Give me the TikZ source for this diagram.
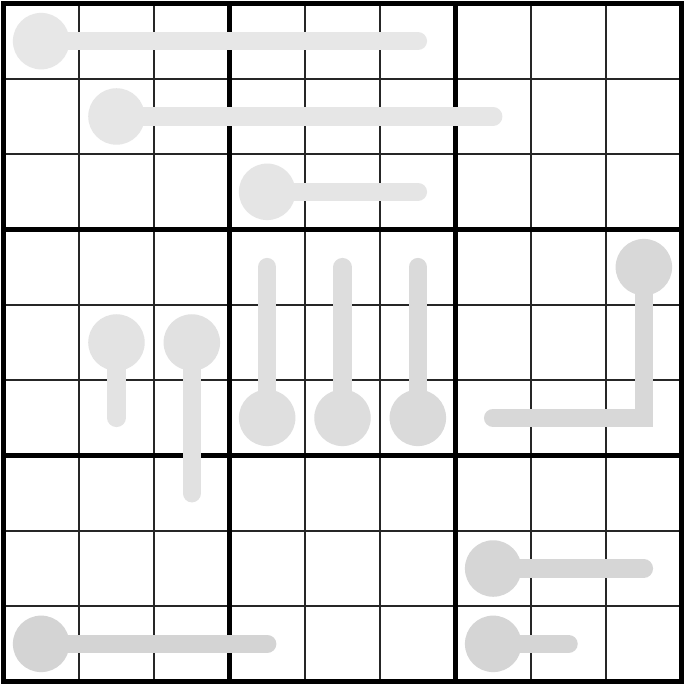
\documentclass[tikz,border=0pt]{standalone}
\begin{document}
\begin{tikzpicture}[x=1cm,y=1cm,
  thinline/.style={line width=0.7pt,black!85},
  boxline/.style={line width=2pt,black},
  bulb/.style={circle,inner sep=0pt,minimum size=0.75cm,fill=#1,draw=none},
  bar/.style={line width=0.245cm,draw=#1,line cap=round,line join=miter}]
\useasboundingbox (-0.046,-0.046) rectangle (9.046,9.046);
\fill[white] (-0.046,-0.046) rectangle (9.046,9.046);
% grid
\draw[thinline] (0,0) grid (9,9);
\draw[boxline] (0,0) grid[step=3] (9,9);
\draw[boxline] (0,0) rectangle (9,9);
% colours
\definecolor{t1}{HTML}{E7E7E7}
\definecolor{t2}{HTML}{E6E6E6}
\definecolor{t3}{HTML}{E5E5E5}
\definecolor{t4}{HTML}{E3E3E3}
\definecolor{t5}{HTML}{E1E1E1}
\definecolor{t6}{HTML}{DFDFDF}
\definecolor{t7}{HTML}{DDDDDD}
\definecolor{t8}{HTML}{DADADA}
\definecolor{t9}{HTML}{D8D8D8}
\definecolor{t10}{HTML}{D6D6D6}
\definecolor{t11}{HTML}{D5D5D5}
\definecolor{t12}{HTML}{D4D4D4}
% end coordinates (x = col+0.5, y = 8.5-row)
\coordinate (e1) at (5.5,8.5);
\coordinate (e2) at (6.5,7.5);
\coordinate (e3) at (5.5,6.5);
\coordinate (e4) at (1.5,3.5);
\coordinate (e5) at (2.5,2.5);
\coordinate (e6) at (3.5,5.5);
\coordinate (e7) at (4.5,5.5);
\coordinate (e8) at (5.5,5.5);
\coordinate (c9) at (8.5,3.5);
\coordinate (e9) at (6.5,3.5);
\coordinate (e10) at (8.5,1.5);
\coordinate (e11) at (7.5,0.5);
\coordinate (e12) at (3.5,0.5);
% bulbs
\node[bulb=t1] (b1) at (0.5,8.5) {};
\node[bulb=t2] (b2) at (1.5,7.5) {};
\node[bulb=t3] (b3) at (3.5,6.5) {};
\node[bulb=t4] (b4) at (1.5,4.5) {};
\node[bulb=t5] (b5) at (2.5,4.5) {};
\node[bulb=t6] (b6) at (3.5,3.5) {};
\node[bulb=t7] (b7) at (4.5,3.5) {};
\node[bulb=t8] (b8) at (5.5,3.5) {};
\node[bulb=t9] (b9) at (8.5,5.5) {};
\node[bulb=t10] (b10) at (6.5,1.5) {};
\node[bulb=t11] (b11) at (6.5,0.5) {};
\node[bulb=t12] (b12) at (0.5,0.5) {};
% bars
\draw[bar=t1] (b1.center) -- (e1);
\draw[bar=t2] (b2.center) -- (e2);
\draw[bar=t3] (b3.center) -- (e3);
\draw[bar=t4] (b4.center) -- (e4);
\draw[bar=t5] (b5.center) -- (e5);
\draw[bar=t6] (b6.center) -- (e6);
\draw[bar=t7] (b7.center) -- (e7);
\draw[bar=t8] (b8.center) -- (e8);
\draw[bar=t9] (b9.center) -- (c9) -- (e9);
\draw[bar=t10] (b10.center) -- (e10);
\draw[bar=t11] (b11.center) -- (e11);
\draw[bar=t12] (b12.center) -- (e12);
\end{tikzpicture}
\end{document}
